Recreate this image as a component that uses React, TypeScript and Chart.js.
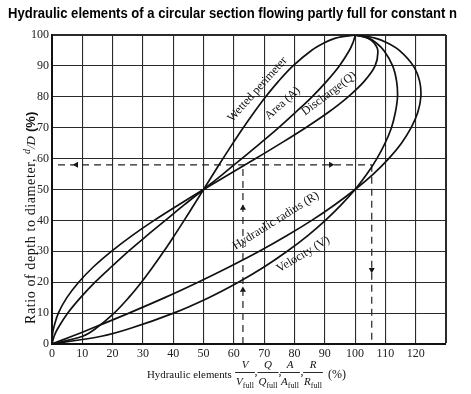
import React, { useEffect, useRef } from 'react';
import { Chart, registerables } from 'chart.js';

Chart.register(...registerables);

const TITLE = 'Hydraulic elements of a circular section flowing partly full for constant n';
const Y_TITLE = 'Ratio of depth to diameter,';
const X_TITLE = 'Hydraulic elements';

// depth ratio d/D (%) — y values shared by every curve
const depth = [0, 2.5, 5, 10, 15, 20, 25, 30, 35, 40, 45, 50, 55, 60, 65, 70, 75, 80, 85, 90, 95, 97.5, 99, 100];
// hydraulic elements (%) read at each depth
const wettedPerimeter = [0, 10.1, 14.4, 20.5, 25.3, 29.5, 33.3, 36.9, 40.3, 43.6, 46.8, 50, 53.2, 56.4, 59.7, 63.1, 66.7, 70.5, 74.7, 79.5, 85.6, 89.9, 93.6, 100];
const area = [0, 0.7, 1.9, 5.2, 9.4, 14.2, 19.6, 25.2, 31.2, 37.4, 43.6, 50, 56.4, 62.6, 68.8, 74.8, 80.4, 85.8, 90.6, 94.8, 98.1, 99.3, 99.8, 100];
const discharge = [0, 0.1, 0.5, 2.1, 4.9, 8.8, 13.7, 19.6, 26.3, 33.7, 41.7, 50, 58.6, 67.2, 75.6, 83.7, 91.2, 97.7, 103.0, 106.6, 107.5, 106.2, 104.2, 100];
const hydraulicRadius = [0, 6.6, 13.0, 25.4, 37.2, 48.2, 58.6, 68.4, 77.4, 85.7, 93.2, 100, 106.0, 111.1, 115.3, 118.5, 120.7, 121.7, 121.3, 119.2, 114.6, 110.5, 106.6, 100];
const velocity = [0, 16.3, 25.7, 40.1, 51.7, 61.5, 70.1, 77.6, 84.3, 90.2, 95.4, 100, 103.9, 107.2, 109.9, 112.0, 113.3, 114.0, 113.7, 112.4, 109.5, 106.9, 104.4, 100];

// worked example (dashed guide)
const guideDepth = 58;
const guideStartX = 2;
const guideAreaX = 63;
const guideVelX = 105.5;
const arrowX = [8, 92, 63, 63, 105.5];
const arrowY = [58, 58, 17.5, 44, 24];
const arrowDir = [270, 90, 0, 0, 180];

const xTicks = [0, 10, 20, 30, 40, 50, 60, 70, 80, 90, 100, 110, 120];
const yTicks = [0, 10, 20, 30, 40, 50, 60, 70, 80, 90, 100];

const curveLabels = [
  { text: 'Wetted perimeter', x: 67.8, y: 82.4, angle: -48 },
  { text: 'Area (A)', x: 76.1, y: 77.9, angle: -42 },
  { text: 'Discharge(Q)', x: 91.4, y: 81.0, angle: -37 },
  { text: 'Hydraulic radius (R)', x: 73.9, y: 39.9, angle: -32 },
  { text: 'Velocity (V)', x: 82.9, y: 29.0, angle: -31 },
];

const SERIF = '"Liberation Serif", "Times New Roman", serif';
const SANS = '"Liberation Sans", Arial, sans-serif';
const INK = '#111';

const decorPlugin = {
  id: 'decor',
  afterDatasetsDraw(chart: any) {
    const { ctx, scales } = chart;
    const xs = scales.x;
    const ys = scales.y;
    ctx.save();
    ctx.fillStyle = INK;
    ctx.font = `12px ${SERIF}`;
    ctx.textAlign = 'center';
    ctx.textBaseline = 'middle';
    for (const l of curveLabels) {
      ctx.save();
      ctx.translate(xs.getPixelForValue(l.x), ys.getPixelForValue(l.y));
      ctx.rotate((l.angle * Math.PI) / 180);
      ctx.fillText(l.text, 0, 0);
      ctx.restore();
    }
    ctx.restore();
  },
  afterDraw(chart: any) {
    const { ctx } = chart;
    ctx.save();
    ctx.fillStyle = '#000';
    ctx.textBaseline = 'alphabetic';
    // main title, condensed to fit
    ctx.font = `bold 14px ${SANS}`;
    ctx.textAlign = 'left';
    const w = ctx.measureText(TITLE).width;
    ctx.save();
    ctx.translate(8, 18);
    ctx.scale(449 / w, 1);
    ctx.fillText(TITLE, 0, 0);
    ctx.restore();

    // y axis title (rotated)
    ctx.fillStyle = INK;
    ctx.save();
    ctx.translate(35, 324);
    ctx.rotate(-Math.PI / 2);
    ctx.font = `14px ${SERIF}`;
    const yw = ctx.measureText(Y_TITLE).width;
    const spacing = Math.max(0, (166 - yw) / Y_TITLE.length);
    (ctx as any).letterSpacing = `${spacing}px`;
    ctx.fillText(Y_TITLE, 0, 0);
    let u = ctx.measureText(Y_TITLE).width + 4;
    (ctx as any).letterSpacing = '0px';
    ctx.font = `italic 10px ${SERIF}`;
    ctx.fillText('d', u, -5);
    u += ctx.measureText('d').width;
    ctx.font = `italic 13px ${SERIF}`;
    ctx.fillText('/', u, 0);
    u += ctx.measureText('/').width;
    ctx.fillText('D', u, 0);
    u += ctx.measureText('D').width + 4;
    ctx.font = `bold 13px ${SANS}`;
    ctx.fillText('(%)', u, 0);
    ctx.restore();

    // x axis title
    ctx.font = `13px ${SERIF}`;
    const xw = ctx.measureText(X_TITLE).width;
    ctx.font = `${(13 * 85) / xw}px ${SERIF}`;
    ctx.textAlign = 'left';
    ctx.fillText(X_TITLE, 147, 378);
    const frac = (cx: number, letter: string) => {
      ctx.font = `italic 11px ${SERIF}`;
      ctx.textAlign = 'center';
      ctx.fillText(letter, cx, 368);
      const lw = ctx.measureText(letter).width;
      ctx.font = `8px ${SERIF}`;
      const sw = ctx.measureText('full').width;
      const total = lw + sw;
      const left = cx - total / 2;
      ctx.font = `italic 11px ${SERIF}`;
      ctx.textAlign = 'left';
      ctx.fillText(letter, left, 385);
      ctx.font = `8px ${SERIF}`;
      ctx.fillText('full', left + lw, 388);
      ctx.fillRect(left - 1, 372, total + 2, 0.9);
    };
    frac(245, 'V');
    frac(268, 'Q');
    frac(290, 'A');
    frac(313, 'R');
    ctx.font = `12px ${SERIF}`;
    ctx.textAlign = 'left';
    ctx.fillText(',', 254.5, 375);
    ctx.fillText(',', 278.5, 375);
    ctx.fillText(',', 300.5, 375);
    ctx.fillText('(%)', 328, 378);
    ctx.restore();
  },
};

export default function App() {
  const ref = useRef<HTMLCanvasElement>(null);
  useEffect(() => {
    const canvas = ref.current;
    if (!canvas) return;
    const pts = (vals: number[]) => vals.map((v, i) => ({ x: v, y: depth[i] }));
    const curve = (label: string, vals: number[]) => ({
      type: 'line' as const,
      label,
      data: pts(vals),
      borderColor: INK,
      borderWidth: 1.7,
      pointRadius: 0,
      tension: 0.35,
      fill: false,
    });
    const dashed = (label: string, data: { x: number; y: number }[]) => ({
      type: 'line' as const,
      label,
      data,
      borderColor: '#222',
      borderWidth: 1.2,
      borderDash: [7, 5],
      pointRadius: 0,
      tension: 0,
      fill: false,
    });
    const tickFont = { family: SERIF, size: 12 };
    const gridW = (max: number) => (c: any) => (c.tick && c.tick.value === max ? 2 : 1.1);
    const chart = new Chart(canvas, {
      type: 'line',
      data: {
        datasets: [
          curve('Wetted perimeter', wettedPerimeter),
          curve('Area (A)', area),
          curve('Discharge (Q)', discharge),
          curve('Hydraulic radius (R)', hydraulicRadius),
          curve('Velocity (V)', velocity),
          dashed('guide h', [
            { x: guideStartX, y: guideDepth },
            { x: guideVelX, y: guideDepth },
          ]),
          dashed('guide A', [
            { x: guideAreaX, y: 0 },
            { x: guideAreaX, y: guideDepth },
          ]),
          dashed('guide V', [
            { x: guideVelX, y: guideDepth },
            { x: guideVelX, y: 0 },
          ]),
          {
            type: 'scatter' as const,
            label: 'arrows',
            data: arrowX.map((v, i) => ({ x: v, y: arrowY[i] })),
            pointStyle: 'triangle',
            pointRadius: 3.5,
            pointRotation: arrowDir,
            backgroundColor: INK,
            borderColor: INK,
            borderWidth: 0,
          } as any,
        ],
      },
      options: {
        animation: false,
        responsive: false,
        layout: { padding: { top: 35, right: 25, left: 0, bottom: 0 } },
        plugins: {
          legend: { display: false },
          tooltip: { enabled: false },
          title: { display: false },
        },
        scales: {
          x: {
            type: 'linear',
            min: 0,
            max: 130,
            afterBuildTicks: (s: any) => {
              s.ticks = [...xTicks, 130].map((v) => ({ value: v }));
            },
            ticks: {
              callback: (v: any) => (xTicks.includes(Number(v)) ? String(v) : ''),
              font: tickFont,
              color: '#222',
              padding: 3,
              maxRotation: 0,
              autoSkip: false,
            },
            grid: { color: '#2a2a2a', lineWidth: gridW(130), drawTicks: false },
            border: { color: INK, width: 2 },
            afterFit: (s: any) => {
              s.height = 50;
            },
          },
          y: {
            type: 'linear',
            min: 0,
            max: 100,
            afterBuildTicks: (s: any) => {
              s.ticks = yTicks.map((v) => ({ value: v }));
            },
            ticks: {
              font: tickFont,
              color: '#222',
              padding: 3,
              autoSkip: false,
            },
            grid: { color: '#2a2a2a', lineWidth: gridW(100), drawTicks: false },
            border: { color: INK, width: 2 },
            afterFit: (s: any) => {
              s.width = 52;
            },
          },
        },
      } as any,
      plugins: [decorPlugin],
    });
    return () => chart.destroy();
  }, []);
  return (
    <div style={{ position: 'fixed', left: 0, top: 0, width: 471, height: 394, background: '#fff' }}>
      <canvas ref={ref} width={471} height={394} style={{ width: 471, height: 394, display: 'block' }} />
    </div>
  );
}
